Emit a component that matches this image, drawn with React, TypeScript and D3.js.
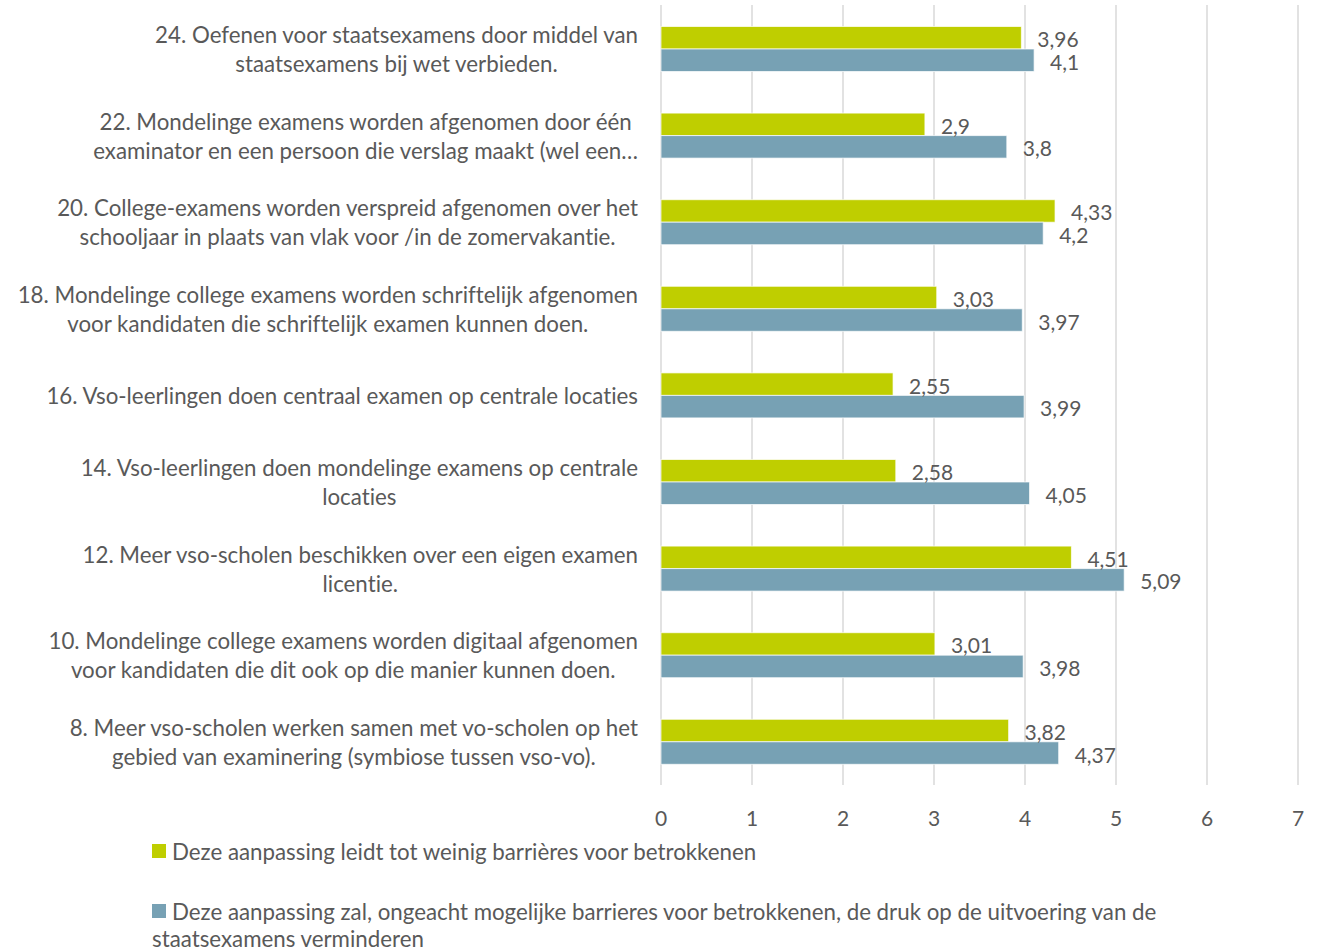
import React, { useEffect, useRef } from 'react';
import * as d3 from 'd3';

const categoryLabels: string[][] = [
  ['24. Oefenen voor staatsexamens door middel van', 'staatsexamens bij wet verbieden.'],
  ['22. Mondelinge examens worden afgenomen door één', 'examinator en een persoon die verslag maakt (wel een…'],
  ['20. College-examens worden verspreid afgenomen over het', 'schooljaar in plaats van vlak voor /in de zomervakantie.'],
  ['18. Mondelinge college examens worden schriftelijk afgenomen', 'voor kandidaten die schriftelijk examen kunnen doen.'],
  ['16. Vso-leerlingen doen centraal examen op centrale locaties'],
  ['14. Vso-leerlingen doen mondelinge examens op centrale', 'locaties'],
  ['12. Meer vso-scholen beschikken over een eigen examen', 'licentie.'],
  ['10. Mondelinge college examens worden digitaal afgenomen', 'voor kandidaten die dit ook op die manier kunnen doen.'],
  ['8. Meer vso-scholen werken samen met vo-scholen op het', 'gebied van examinering (symbiose tussen vso-vo).'],
];

const weinigBarrieres = [3.96, 2.9, 4.33, 3.03, 2.55, 2.58, 4.51, 3.01, 3.82];
const drukVerminderen = [4.1, 3.8, 4.2, 3.97, 3.99, 4.05, 5.09, 3.98, 4.37];

const xTicks = [0, 1, 2, 3, 4, 5, 6, 7];

const legendGreen = 'Deze aanpassing leidt tot weinig barrières voor betrokkenen';
const legendBlueLines = [
  'Deze aanpassing zal, ongeacht mogelijke barrieres voor betrokkenen, de druk op de uitvoering van de',
  'staatsexamens verminderen',
];

const W = 1319;
const H = 950;
const FONT = 'Lato, "Open Sans", sans-serif';
const FS = 22.3;
const FS_NUM = 21;
const TEXT = '#595959';
const GREEN = '#BFCE00';
const BLUE = '#77A1B4';
const GRID = '#D9D9D9';

const fmt = (v: number) => String(v).replace('.', ',');

export default function App() {
  const ref = useRef<SVGSVGElement>(null);

  useEffect(() => {
    document.body.style.margin = '0';
    const svg = d3.select(ref.current);
    svg.selectAll('*').remove();
    svg
      .attr('font-family', FONT)
      .attr('font-size', FS)
      .style('font-variant-ligatures', 'none')
      .style('font-feature-settings', '"liga" 0, "clig" 0');

    const x = d3.scaleLinear().domain([0, 7]).range([661, 1298]);
    const y = d3
      .scaleBand<number>()
      .domain(d3.range(categoryLabels.length))
      .range([5.7, 785.1]);
    const center = (i: number) => (y(i) as number) + y.bandwidth() / 2;
    const barH = 22.5;

    // gridlines
    svg
      .append('g')
      .selectAll('line')
      .data(xTicks)
      .join('line')
      .attr('x1', (d) => x(d))
      .attr('x2', (d) => x(d))
      .attr('y1', 5)
      .attr('y2', 785)
      .attr('stroke', GRID)
      .attr('stroke-width', 1.5);

    // tick labels
    svg
      .append('g')
      .selectAll('text')
      .data(xTicks)
      .join('text')
      .attr('x', (d) => x(d))
      .attr('y', 817)
      .attr('font-size', FS_NUM)
      .attr('text-anchor', 'middle')
      .attr('dominant-baseline', 'central')
      .attr('fill', TEXT)
      .text((d) => String(d));

    const idx = d3.range(categoryLabels.length);

    // green bars
    svg
      .append('g')
      .selectAll('rect')
      .data(idx)
      .join('rect')
      .attr('x', x(0))
      .attr('y', (i) => center(i) - barH)
      .attr('width', (i) => x(weinigBarrieres[i]) - x(0))
      .attr('height', barH)
      .attr('fill', GREEN)
      .attr('stroke', '#ffffff')
      .attr('stroke-opacity', 0.7)
      .attr('stroke-width', 1);

    // blue bars
    svg
      .append('g')
      .selectAll('rect')
      .data(idx)
      .join('rect')
      .attr('x', x(0))
      .attr('y', (i) => center(i))
      .attr('width', (i) => x(drukVerminderen[i]) - x(0))
      .attr('height', barH)
      .attr('fill', BLUE)
      .attr('stroke', '#ffffff')
      .attr('stroke-opacity', 0.7)
      .attr('stroke-width', 1);

    // value labels
    svg
      .append('g')
      .selectAll('text')
      .data(idx)
      .join('text')
      .attr('x', (i) => x(weinigBarrieres[i]) + 16)
      .attr('y', (i) => center(i) - barH / 2 + 1)
      .attr('font-size', FS_NUM)
      .attr('dominant-baseline', 'central')
      .attr('fill', TEXT)
      .text((i) => fmt(weinigBarrieres[i]));
    svg
      .append('g')
      .selectAll('text')
      .data(idx)
      .join('text')
      .attr('x', (i) => x(drukVerminderen[i]) + 16)
      .attr('y', (i) => center(i) + barH / 2 + 1)
      .attr('font-size', FS_NUM)
      .attr('dominant-baseline', 'central')
      .attr('fill', TEXT)
      .text((i) => fmt(drukVerminderen[i]));

    // category labels
    const lineH = 29;
    const catG = svg.append('g');
    categoryLabels.forEach((lines, i) => {
      const g = catG.append('g');
      const texts = lines.map((ln, k) =>
        g
          .append('text')
          .attr('y', center(i) + (k - (lines.length - 1) / 2) * lineH)
          .attr('dominant-baseline', 'central')
          .attr('text-anchor', 'middle')
          .attr('fill', TEXT)
          .text(ln)
      );
      const widths = texts.map((t) => (t.node() as SVGTextElement).getComputedTextLength());
      const maxW = d3.max(widths) || 0;
      const cx = 638 - maxW / 2;
      texts.forEach((t) => t.attr('x', cx));
    });

    // legend
    const lg = svg.append('g');
    lg.append('rect').attr('x', 152).attr('y', 844).attr('width', 14).attr('height', 14).attr('fill', GREEN);
    lg.append('text')
      .attr('x', 172)
      .attr('y', 851)
      .attr('dominant-baseline', 'central')
      .attr('fill', TEXT)
      .text(legendGreen);
    lg.append('rect').attr('x', 152).attr('y', 904).attr('width', 14).attr('height', 14).attr('fill', BLUE);
    lg.append('text')
      .attr('x', 172)
      .attr('y', 911)
      .attr('dominant-baseline', 'central')
      .attr('fill', TEXT)
      .text(legendBlueLines[0]);
    lg.append('text')
      .attr('x', 152)
      .attr('y', 938)
      .attr('dominant-baseline', 'central')
      .attr('fill', TEXT)
      .text(legendBlueLines[1]);
  }, []);

  return (
    <svg
      ref={ref}
      width={W}
      height={H}
      viewBox={`0 0 ${W} ${H}`}
      style={{ display: 'block', background: '#ffffff' }}
    />
  );
}
